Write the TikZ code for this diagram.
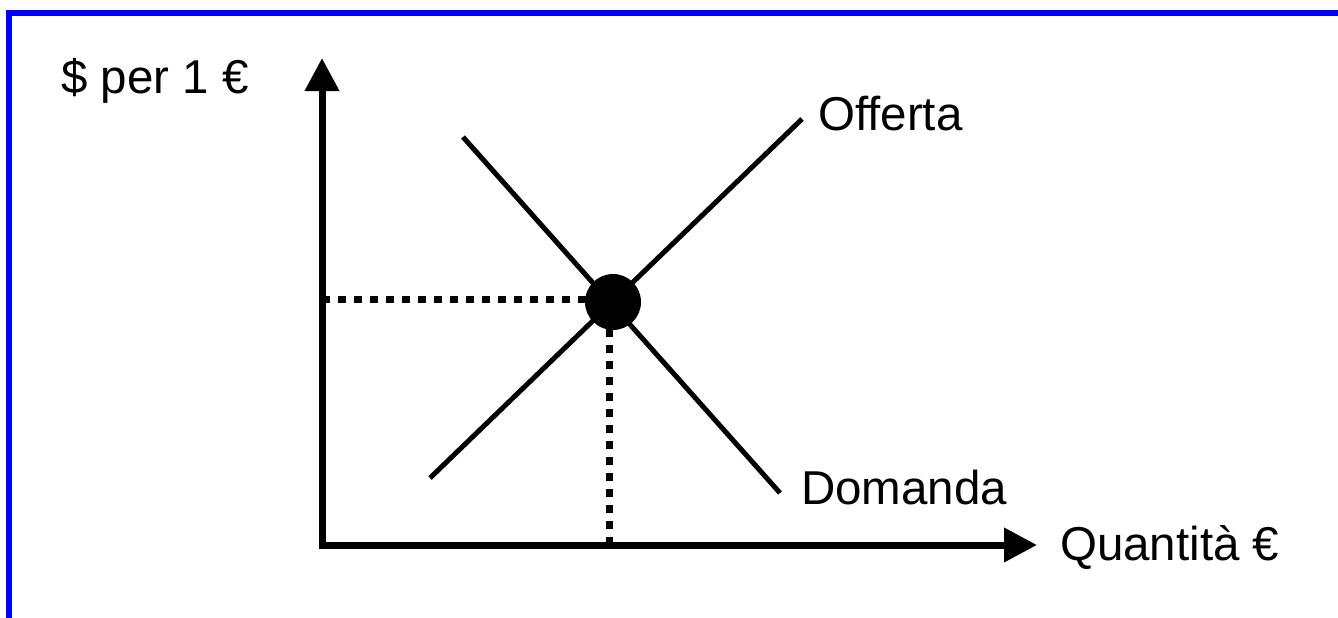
\documentclass[tikz,border=0pt]{standalone}
\usepackage{fontspec}
\setmainfont{Liberation Sans}
\usetikzlibrary{arrows.meta}
\definecolor{frameblue}{RGB}{0,0,255}
\tikzset{
  axisline/.style={line width=7pt, line join=miter, {Triangle[length=33pt,width=33pt]}-{Triangle[length=33pt,width=33pt]}},
  curveline/.style={line width=5pt},
  dotline/.style={line width=7pt, dash pattern=on 8pt off 8pt},
  lbl/.style={font=\fontsize{47.5}{54}\selectfont, inner sep=0pt, anchor=base west},
  eqdot/.style={circle, fill=black, minimum size=56pt, inner sep=0pt},
}
\begin{document}
\begin{tikzpicture}[x=1pt,y=-1pt]
\useasboundingbox (0,0) rectangle (1338,618);
\draw[frameblue, line width=6pt, line join=miter] (9,618) -- (9,13) -- (1338,13);
% axes
\coordinate (O) at (322,545);
\coordinate (ytip) at (322,58);
\coordinate (xtip) at (1037,545);
\draw[axisline] (ytip) -- (O) -- (xtip);
% curves
\coordinate (s1) at (430,478);
\coordinate (s2) at (802,119);
\coordinate (d1) at (463,137);
\coordinate (d2) at (780,493);
\draw[curveline] (s1) -- (s2);
\draw[curveline] (d1) -- (d2);
% dotted guides
\coordinate (hy) at (322,299);
\coordinate (hx) at (590,299);
\coordinate (vt) at (609,325);
\coordinate (vb) at (609,545);
\draw[dotline] (hy) -- (hx);
\draw[dotline] (vb) -- (vt);
% equilibrium
\node[eqdot] (eq) at (613,302) {};
% labels
\node[lbl] (ylab) at (61,93) {\$ per 1 €};
\node[lbl] (off) at (818,130) {Offerta};
\node[lbl] (dom) at (801,504) {Domanda};
\node[lbl] (xlab) at (1060,560) {Quantità €};
\end{tikzpicture}
\end{document}
